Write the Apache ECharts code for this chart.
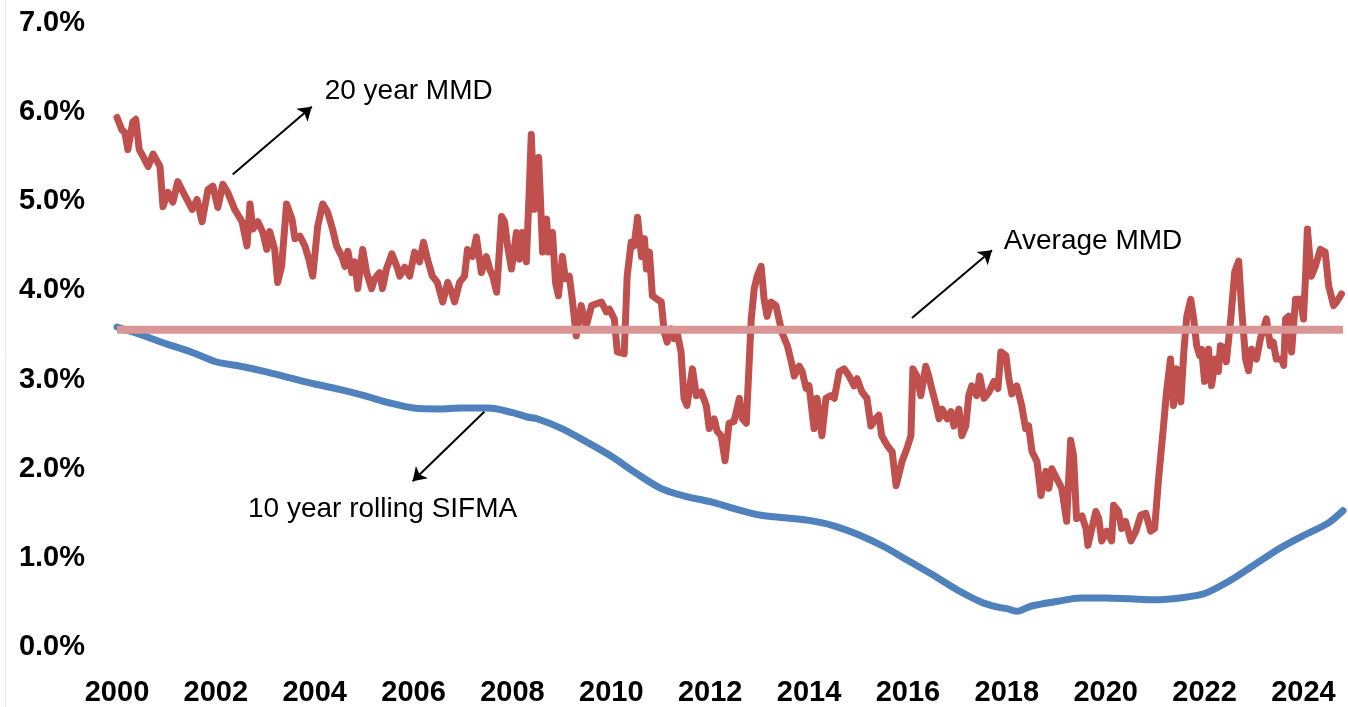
<!DOCTYPE html>
<html>
<head>
<meta charset="utf-8">
<script src="https://cdn.jsdelivr.net/npm/echarts@6/dist/echarts.min.js"></script>
<style>
  html, body { margin: 0; padding: 0; background: #ffffff; }
  #chart { width: 1348px; height: 707px; }
</style>
</head>
<body>
<div id="chart"></div>
<script>
// ---- Data (decimal years, percent) ----
const mmdYears = [
  2000.00,2000.10,2000.16,2000.22,2000.32,2000.38,2000.45,2000.53,2000.63,2000.73,2000.81,2000.87,2000.93,
  2001.03,2001.13,2001.23,2001.33,2001.52,2001.62,2001.72,2001.84,2001.94,
  2002.04,2002.14,2002.24,2002.38,2002.53,2002.63,2002.69,2002.75,2002.85,2002.95,
  2003.03,2003.09,2003.19,2003.25,2003.33,2003.43,2003.54,2003.60,2003.70,2003.80,2003.88,2003.96,
  2004.06,2004.16,2004.26,2004.36,2004.44,2004.55,2004.61,2004.67,2004.75,2004.81,2004.87,2004.97,
  2005.05,2005.15,2005.21,2005.31,2005.37,2005.45,2005.56,2005.66,2005.72,2005.82,2005.92,
  2006.02,2006.12,2006.20,2006.28,2006.38,2006.48,2006.59,2006.69,2006.77,2006.83,2006.93,
  2007.03,2007.09,2007.19,2007.27,2007.37,2007.47,2007.54,2007.60,2007.68,2007.78,2007.84,2007.90,2007.98,
  2008.08,2008.14,2008.20,2008.28,2008.34,2008.38,2008.44,2008.53,2008.61,2008.69,2008.73,2008.81,2008.87,2008.93,
  2009.01,2009.07,2009.15,2009.21,2009.29,2009.39,2009.49,2009.60,2009.70,2009.80,2009.90,2009.96,
  2010.06,2010.12,2010.26,2010.32,2010.40,2010.46,2010.53,2010.61,2010.67,2010.71,2010.77,2010.83,2010.93,
  2011.01,2011.07,2011.13,2011.21,2011.27,2011.33,2011.41,2011.47,2011.53,2011.64,2011.72,2011.82,2011.92,2011.98,
  2012.08,2012.14,2012.22,2012.30,2012.38,2012.48,2012.59,2012.65,2012.73,2012.83,2012.89,2012.95,
  2013.03,2013.09,2013.15,2013.23,2013.33,2013.39,2013.45,2013.56,2013.64,2013.70,2013.80,2013.86,2013.94,
  2014.00,2014.10,2014.16,2014.26,2014.34,2014.44,2014.51,2014.61,2014.71,2014.81,2014.91,2014.97,
  2015.07,2015.17,2015.25,2015.35,2015.41,2015.47,2015.58,2015.68,2015.76,2015.88,2015.98,
  2016.06,2016.10,2016.18,2016.26,2016.36,2016.42,2016.48,2016.57,2016.63,2016.69,2016.79,2016.87,2016.93,
  2017.03,2017.09,2017.17,2017.23,2017.29,2017.39,2017.45,2017.54,2017.64,2017.74,2017.82,2017.88,2017.98,
  2018.04,2018.10,2018.20,2018.30,2018.38,2018.44,2018.51,2018.61,2018.69,2018.79,2018.85,2018.91,
  2019.01,2019.11,2019.21,2019.29,2019.35,2019.41,2019.52,2019.60,2019.64,2019.72,2019.80,2019.86,2019.92,
  2020.02,2020.12,2020.16,2020.26,2020.32,2020.40,2020.51,2020.61,2020.71,2020.81,2020.91,2020.99,
  2021.07,2021.17,2021.23,2021.31,2021.37,2021.43,2021.52,2021.58,2021.64,2021.72,2021.78,2021.84,2021.90,2021.94,
  2022.00,2022.08,2022.14,2022.22,2022.28,2022.32,2022.38,2022.44,2022.53,2022.61,2022.69,2022.75,2022.83,2022.89,2022.95,
  2023.05,2023.13,2023.19,2023.25,2023.33,2023.39,2023.45,2023.56,2023.60,2023.64,2023.70,2023.76,2023.84,2023.94,
  2024.00,2024.04,2024.08,2024.16,2024.24,2024.34,2024.44,2024.51,2024.61,2024.67,2024.77
];
const mmdValues = [
  5.94,5.80,5.77,5.58,5.89,5.92,5.58,5.50,5.39,5.53,5.45,5.39,4.94,
  5.10,4.99,5.22,5.11,4.91,5.02,4.77,5.13,5.17,
  4.93,5.19,5.10,4.91,4.77,4.50,4.97,4.69,4.77,4.65,
  4.46,4.66,4.46,4.09,4.27,4.97,4.80,4.58,4.61,4.50,4.35,4.16,
  4.72,4.97,4.88,4.69,4.50,4.38,4.27,4.44,4.20,4.32,4.02,4.46,
  4.20,4.02,4.13,4.20,4.02,4.24,4.41,4.27,4.16,4.26,4.16,
  4.43,4.32,4.54,4.35,4.16,4.09,3.87,4.09,3.98,3.87,4.09,
  4.16,4.46,4.38,4.60,4.20,4.38,4.24,4.16,3.98,4.83,4.77,4.50,4.24,
  4.65,4.35,4.65,4.32,5.13,5.75,4.91,5.49,4.43,4.80,4.43,4.65,4.09,3.94,
  4.38,4.13,4.16,3.90,3.49,3.83,3.60,3.83,3.85,3.87,3.76,3.79,
  3.68,3.31,3.29,4.16,4.54,4.50,4.82,4.38,4.58,4.24,4.43,3.94,3.90,
  3.87,3.53,3.42,3.57,3.46,3.53,3.31,2.79,2.71,3.12,2.82,2.86,2.71,2.45,
  2.56,2.42,2.37,2.09,2.51,2.53,2.79,2.56,2.51,3.68,4.02,4.16,
  4.27,3.90,3.71,3.87,3.83,3.68,3.53,3.38,3.20,3.04,3.15,3.09,2.90,
  2.93,2.45,2.79,2.37,2.79,2.82,2.79,3.09,3.12,3.04,2.93,3.01,
  2.86,2.79,2.48,2.56,2.60,2.37,2.26,2.19,1.81,2.08,2.23,
  2.37,3.12,3.04,2.82,3.15,3.04,2.90,2.71,2.56,2.67,2.56,2.64,2.48,
  2.67,2.37,2.48,2.82,2.93,2.82,3.04,2.79,2.86,2.98,2.90,3.31,3.27,
  3.01,2.84,2.93,2.71,2.45,2.48,2.19,2.08,1.70,1.97,1.78,2.00,
  1.89,1.78,1.41,2.32,2.15,1.44,1.47,1.33,1.14,1.33,1.52,1.44,1.19,
  1.30,1.19,1.59,1.52,1.33,1.41,1.19,1.30,1.48,1.50,1.30,1.33,
  1.89,2.48,2.86,3.23,2.71,3.12,2.75,3.31,3.71,3.90,3.68,3.38,3.27,3.34,
  2.98,3.34,2.93,3.23,3.09,3.38,3.36,3.20,3.68,4.21,4.33,3.79,3.23,3.10,3.34,
  3.23,3.46,3.57,3.68,3.38,3.42,3.23,3.23,3.16,3.68,3.71,3.31,3.90,3.90,
  3.68,4.13,4.69,4.16,4.27,4.46,4.43,4.05,3.83,3.87,3.96
];
const sifmaYears = [
  2000.0,2000.5,2001.0,2001.5,2002.0,2002.5,2003.0,2003.5,2004.0,2004.5,2005.0,2005.5,2006.0,2006.5,2007.0,2007.5,
  2008.0,2008.3,2008.5,2009.0,2009.5,2010.0,2010.5,2011.0,2011.5,2012.0,2012.5,2013.0,2013.5,2014.0,2014.5,
  2015.0,2015.5,2016.0,2016.5,2017.0,2017.5,2017.8,2018.0,2018.2,2018.5,2019.0,2019.5,2020.0,2020.5,2021.0,2021.5,
  2022.0,2022.5,2023.0,2023.5,2024.0,2024.5,2024.8
];
const sifmaValues = [
  3.59,3.50,3.40,3.31,3.20,3.15,3.09,3.02,2.95,2.89,2.82,2.74,2.68,2.67,2.68,2.68,
  2.63,2.58,2.56,2.45,2.30,2.14,1.95,1.78,1.69,1.63,1.55,1.48,1.45,1.42,1.36,
  1.26,1.13,0.97,0.81,0.64,0.50,0.45,0.43,0.40,0.46,0.51,0.55,0.55,0.54,0.53,0.55,
  0.60,0.74,0.92,1.10,1.25,1.39,1.53
];
const avgMMD = 3.56;
const xRange = [2000, 2024.8];
const yTicks = [0, 1, 2, 3, 4, 5, 6, 7];

// Annotations (data coordinates)
const annoTexts = ['20 year MMD', 'Average MMD', '10 year rolling SIFMA'];
const annoTextPos = [[2004.2, 6.23], [2017.94, 4.55], [2002.65, 1.55]];
const annoArrows = [
  [[2002.34, 5.30], [2003.94, 6.06]],
  [[2016.08, 3.69], [2017.70, 4.45]],
  [[2007.43, 2.64], [2005.98, 1.86]]
];

const zip = (xs, ys) => xs.map((x, i) => [x, ys[i]]);

const chart = echarts.init(document.getElementById('chart'), null, { renderer: 'canvas' });
const FONT = "'Liberation Sans', Arial, sans-serif";

chart.setOption({
  backgroundColor: '#ffffff',
  animation: false,
  grid: { left: 117, right: 5, top: 23, bottom: 58, containLabel: false },
  xAxis: {
    type: 'value',
    min: xRange[0], max: xRange[1], interval: 2,
    axisLine: { show: false },
    axisTick: { show: false },
    splitLine: { show: false },
    axisLabel: {
      margin: 31,
      fontFamily: FONT, fontSize: 29, fontWeight: 'bold', color: '#000',
      formatter: v => (Math.abs(v - Math.round(v)) < 1e-6 && Math.round(v) % 2 === 0) ? String(Math.round(v)) : ''
    }
  },
  yAxis: {
    type: 'value',
    min: yTicks[0], max: yTicks[yTicks.length - 1], interval: 1,
    axisLine: { show: false },
    axisTick: { show: false },
    splitLine: { show: false },
    axisLabel: {
      margin: 32,
      fontFamily: FONT, fontSize: 29, fontWeight: 'bold', color: '#000',
      formatter: v => v.toFixed(1) + '%'
    }
  },
  series: [
    {
      name: '10 year rolling SIFMA', type: 'line', data: zip(sifmaYears, sifmaValues),
      showSymbol: false, smooth: 0.3,
      lineStyle: { color: '#4f81bd', width: 7, cap: 'round', join: 'round' }, z: 2
    },
    {
      name: '20 year MMD', type: 'line', data: zip(mmdYears, mmdValues),
      showSymbol: false,
      lineStyle: { color: '#c0504d', width: 7, cap: 'round', join: 'round' }, z: 3
    },
    {
      name: 'Average MMD', type: 'line', data: [[xRange[0], avgMMD], [xRange[1], avgMMD]],
      showSymbol: false,
      lineStyle: { color: '#d99694', width: 8 }, z: 4
    },
    {
      type: 'lines', coordinateSystem: 'cartesian2d', z: 5,
      symbol: ['none', 'arrow'], symbolSize: 13,
      lineStyle: { color: '#000', width: 2, opacity: 1, curveness: 0 },
      data: annoArrows.map(c => ({ coords: c }))
    },
    {
      type: 'scatter', symbolSize: 0, z: 6,
      itemStyle: { opacity: 1, color: '#000' },
      data: annoTextPos.map((p, i) => ({ value: p, name: annoTexts[i] })),
      label: {
        show: true, position: 'right', distance: 0, opacity: 1,
        formatter: p => p.name,
        fontFamily: FONT, fontSize: 28, color: '#000', textBorderWidth: 0
      }
    }
  ],
  graphic: [
    { type: 'line', shape: { x1: 5.5, y1: 0, x2: 5.5, y2: 707 }, style: { stroke: '#e8e8e8', lineWidth: 1 }, silent: true }
  ]
});
</script>
</body>
</html>
